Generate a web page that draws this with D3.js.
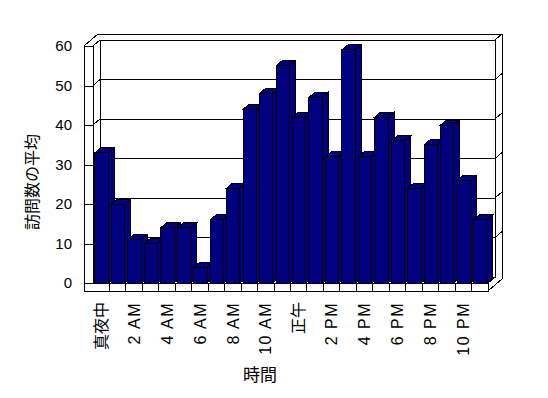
<!DOCTYPE html>
<html>
<head>
<meta charset="utf-8">
<script src="https://cdn.jsdelivr.net/npm/d3@7"></script>
<style>
body { margin: 0; background: #fff; }
svg { display: block; }
</style>
</head>
<body>
<div id="chart"></div>
<script>
// hours of the day, avg visits per hour
var hours = ['真夜中', '1 AM', '2 AM', '3 AM', '4 AM', '5 AM', '6 AM', '7 AM', '8 AM', '9 AM', '10 AM', '11 AM',
             '正午', '1 PM', '2 PM', '3 PM', '4 PM', '5 PM', '6 PM', '7 PM', '8 PM', '9 PM', '10 PM', '11 PM'];
var visits = [33, 20, 11, 10, 14, 14, 4, 16, 24, 44, 48, 55, 42, 47, 32, 59, 32, 42, 36, 24, 35, 40, 26, 16];
var tickLabels = ['真夜中', '2 AM', '4 AM', '6 AM', '8 AM', '10 AM', '正午', '2 PM', '4 PM', '6 PM', '8 PM', '10 PM'];
var yTicks = [0, 10, 20, 30, 40, 50, 60];

var width = 548, height = 398;
var mainFont = "'Liberation Sans', 'Noto Sans CJK JP', sans-serif";
var barColor = '#000080';

var wallX = 84;              // outer edge of left wall
var wall = [7, -6];          // depth of the floor
var thick = [14, -12];       // depth incl. back wall thickness
var depth = [6, -5];         // depth of each bar
var floorH = 8;

var x = d3.scaleBand().domain(hours).range([93, 488]);
var y = d3.scaleLinear().domain([0, 60]).range([283, 46]);

window.onload = function() {
    render();
};

function pts(list) {
    return list.map(function(p) { return p[0] + ',' + p[1]; }).join(' ');
}

function line(svg, x1, y1, x2, y2) {
    svg.append('line')
        .attr('x1', x1).attr('y1', y1)
        .attr('x2', x2).attr('y2', y2)
        .style('stroke', '#000');
}

function render() {
    var svg = d3.select('#chart').append('svg')
        .attr('width', width)
        .attr('height', height)
        .style('shape-rendering', 'crispEdges');

    var x0 = x.range()[0], x1 = x.range()[1];
    var y0 = y(0), yTop = y(60);

    // back wall + floor
    svg.append('polygon')
        .attr('points', pts([[x0 + wall[0], yTop + wall[1]], [x1 + wall[0], yTop + wall[1]],
                             [x1 + wall[0], y0 + wall[1]], [x0 + wall[0], y0 + wall[1]]]))
        .style('fill', '#fff').style('stroke', '#000');
    svg.append('polygon')
        .attr('points', pts([[x0, y0], [x1, y0], [x1 + wall[0], y0 + wall[1]], [x0 + wall[0], y0 + wall[1]]]))
        .style('fill', '#fff').style('stroke', '#000');

    // gridlines on back wall and both side faces
    yTicks.forEach(function(v) {
        if (v === 0) return;
        var yy = y(v);
        line(svg, x0 + wall[0], yy + wall[1], x1 + wall[0], yy + wall[1]);
        line(svg, x0, yy, x0 + wall[0], yy + wall[1]);
        line(svg, x1 + wall[0], yy + wall[1], x1 + thick[0], yy + thick[1]);
    });

    // outer frame of the walls
    svg.append('path')
        .attr('d', 'M' + wallX + ',' + yTop + 'L' + (wallX + thick[0]) + ',' + (yTop + thick[1]) +
                   'L' + (x1 + thick[0]) + ',' + (yTop + thick[1]) +
                   'L' + (x1 + thick[0]) + ',' + (y0 + floorH + thick[1]) +
                   'L' + x1 + ',' + (y0 + floorH))
        .style('fill', 'none').style('stroke', '#000');
    line(svg, x0, yTop, x0 + wall[0], yTop + wall[1]);
    line(svg, x0, yTop, x0, y0);
    line(svg, x1 + wall[0], yTop + wall[1], x1 + thick[0], yTop + thick[1]);
    line(svg, x1 + wall[0], y0 + wall[1], x1, y0);

    // bars
    var bw = x.bandwidth();
    visits.forEach(function(v, i) {
        var bx = x(hours[i]) + bw * 0.12;
        var w = bw * 0.81;
        var top = y(v);
        var g = svg.append('g')
            .style('fill', barColor)
            .style('stroke', '#000');
        g.append('polygon')
            .attr('points', pts([[bx + w, top], [bx + w + depth[0], top + depth[1]],
                                 [bx + w + depth[0], y0 + depth[1]], [bx + w, y0]]));
        g.append('polygon')
            .attr('points', pts([[bx, top], [bx + depth[0], top + depth[1]],
                                 [bx + w + depth[0], top + depth[1]], [bx + w, top]]));
        g.append('rect')
            .attr('x', bx).attr('y', top)
            .attr('width', w).attr('height', y0 - top);
    });

    // front face of left wall and floor
    svg.append('path')
        .attr('d', 'M' + wallX + ',' + yTop + 'L' + x0 + ',' + yTop + 'L' + x0 + ',' + y0 +
                   'L' + x1 + ',' + y0 + 'L' + x1 + ',' + (y0 + floorH) +
                   'L' + wallX + ',' + (y0 + floorH) + 'Z')
        .style('fill', '#fff').style('stroke', '#000');
    hours.forEach(function(h, i) {
        if (i === 0) return;
        line(svg, x(h), y0, x(h), y0 + floorH);
    });

    // y axis
    var yAxis = svg.append('g')
        .attr('transform', 'translate(' + x0 + ',0)')
        .call(d3.axisLeft(y).tickValues(yTicks).tickSize(x0 - wallX).tickPadding(12));
    yAxis.select('.domain').remove();
    yAxis.selectAll('line').style('stroke', '#000');
    yAxis.selectAll('text')
        .style('font-family', mainFont)
        .style('font-size', '15px')
        .style('fill', '#000');

    // x axis
    var xAxis = svg.append('g')
        .attr('transform', 'translate(0,' + (y0 + floorH) + ')')
        .call(d3.axisBottom(x).tickValues(tickLabels).tickSize(0));
    xAxis.select('.domain').remove();
    xAxis.selectAll('text')
        .attr('transform', 'rotate(-90)')
        .attr('x', -11)
        .attr('y', 0)
        .attr('dy', '0.35em')
        .style('text-anchor', 'end')
        .style('font-family', mainFont)
        .style('font-size', '16px')
        .style('letter-spacing', function(d) { return /[AP]M/.test(d) ? '1.5px' : '0px'; })
        .style('fill', '#000');

    // titles
    svg.append('text')
        .attr('transform', 'translate(32,182) rotate(-90)')
        .attr('dy', '0.35em')
        .style('text-anchor', 'middle')
        .style('font-family', mainFont)
        .style('font-size', '16px')
        .text('訪問数の平均');

    svg.append('text')
        .attr('x', 260)
        .attr('y', 375)
        .attr('dy', '0.35em')
        .style('text-anchor', 'middle')
        .style('font-family', mainFont)
        .style('font-size', '17px')
        .text('時間');
}
</script>
</body>
</html>
